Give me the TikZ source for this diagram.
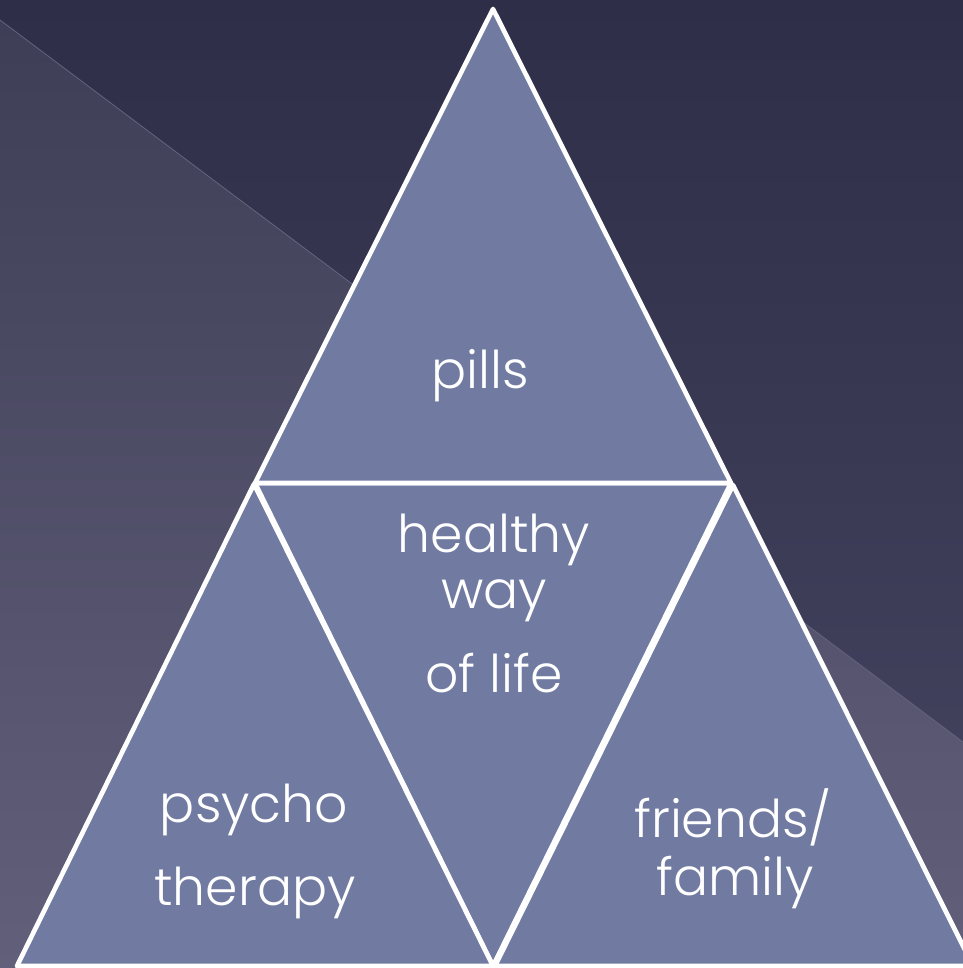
\documentclass[tikz,border=0pt]{standalone}
\usepackage{fontspec}
\setmainfont{Poppins Light}
\definecolor{bgTop}{RGB}{47,46,72}
\definecolor{bgBot}{RGB}{70,70,98}
\definecolor{bandTop}{RGB}{62,62,86}
\definecolor{bandBot}{RGB}{98,95,122}
\definecolor{faintLine}{RGB}{100,100,124}
\definecolor{triFill}{RGB}{113,123,161}
\begin{document}
\begin{tikzpicture}[x=0.75pt,y=-0.75pt,
  tri/.style={fill=triFill,draw=white,line width=3.5pt,line join=round},
  lbl/.style={text=white,font=\fontsize{39}{46}\selectfont,anchor=base,inner sep=0pt}]
  \useasboundingbox (0,0) rectangle (963,968);
  % background: dark field with a lighter diagonal band
  \shade[top color=bgTop,bottom color=bgBot] (0,0) rectangle (963,968);
  \shade[top color=bandTop,bottom color=bandBot]
    (0,20) -- (963,742) -- (963,968) -- (0,968) -- cycle;
  \draw[faintLine,line width=0.6pt] (0,20) -- (963,742);
  % four triangles
  \draw[tri] (255,483) -- (731,483) -- (493,966) -- cycle;
  \draw[tri] (254,484) -- (493,966) -- (17,966) -- cycle;
  \draw[tri] (733,485) -- (973,966) -- (495,966) -- cycle;
  \draw[tri] (493,9) -- (731,483) -- (255,483) -- cycle;
  % labels
  \node[lbl] (pills) at (480,388) {pills};
  \node[lbl] (healthy) at (494,552) {healthy};
  \node[lbl] (way) at (494,608) {way};
  \node[lbl] (oflife) at (494,692) {of life};
  \node[lbl] (psycho) at (254,822) {psycho};
  \node[lbl] (therapy) at (255,905) {therapy};
  \node[lbl] (friends) at (733,837) {friends/};
  \node[lbl] (family) at (735,895) {family};
\end{tikzpicture}
\end{document}
